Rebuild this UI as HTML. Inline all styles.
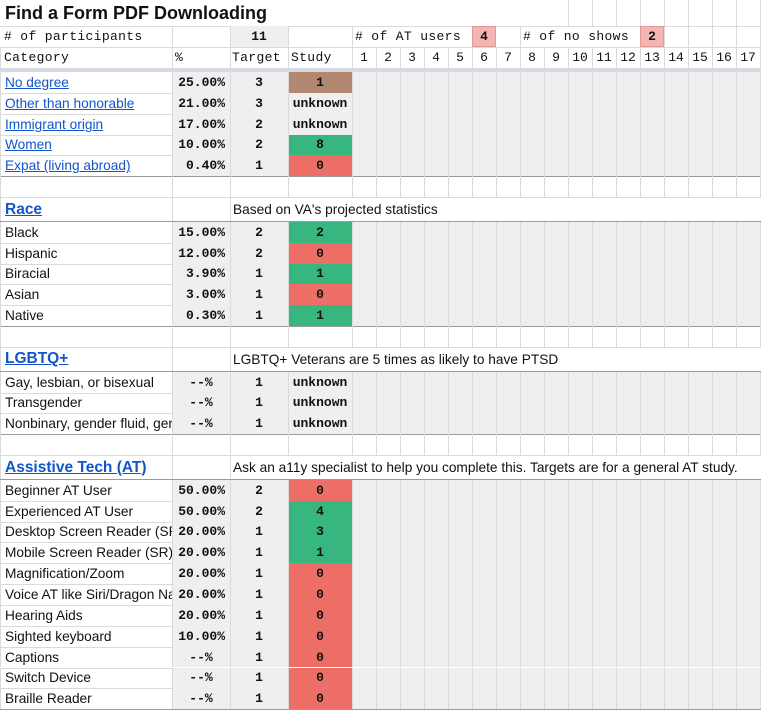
<!DOCTYPE html>
<html><head><meta charset="utf-8"><style>
body{margin:0;background:#fff;}
#sheet{position:relative;width:761px;height:711px;overflow:hidden;background:#fff;font-family:"Liberation Sans",sans-serif;font-size:13.7px;color:#111;}
.c{position:absolute;box-sizing:border-box;white-space:nowrap;overflow:hidden;display:flex;align-items:center;}
.mono{font-family:"Liberation Mono",monospace;font-size:13px;}
.lt{letter-spacing:0.35px;}
.b{font-weight:bold;}
.ctr{justify-content:center;}
.hl{position:absolute;left:0;width:761px;height:1px;background:#dadada;}
.vl{position:absolute;width:1px;background:#dadada;}
a{color:#1155cc;}
</style></head><body>
<div id="sheet"></div>
<script>
const colX=[0,172,230,288,352];
for(let i=1;i<=17;i++)colX.push(352+i*24);
const sections=[
 {title:null,note:null,labels:["No degree","Other than honorable","Immigrant origin","Women","Expat (living abroad)"],pct:["25.00%","21.00%","17.00%","10.00%","0.40%"],target:[3,3,2,2,1],study:["1","unknown","unknown","8","0"],link:true},
 {title:"Race",note:"Based on VA's projected statistics",labels:["Black","Hispanic","Biracial","Asian","Native"],pct:["15.00%","12.00%","3.90%","3.00%","0.30%"],target:[2,2,1,1,1],study:["2","0","1","0","1"]},
 {title:"LGBTQ+",note:"LGBTQ+ Veterans are 5 times as likely to have PTSD",labels:["Gay, lesbian, or bisexual","Transgender","Nonbinary, gender fluid, gender"],pct:["--%","--%","--%"],target:[1,1,1],study:["unknown","unknown","unknown"]},
 {title:"Assistive Tech (AT)",note:"Ask an a11y specialist to help you complete this. Targets are for a general AT study.",labels:["Beginner AT User","Experienced AT User","Desktop Screen Reader (SR)","Mobile Screen Reader (SR)","Magnification/Zoom","Voice AT like Siri/Dragon NaturallySpeaking","Hearing Aids","Sighted keyboard","Captions","Switch Device","Braille Reader"],pct:["50.00%","50.00%","20.00%","20.00%","20.00%","20.00%","20.00%","10.00%","--%","--%","--%"],target:[2,2,1,1,1,1,1,1,1,1,1],study:["0","4","3","1","0","0","0","0","0","0","0"]}
];
const participants=11, atUsers=4, noShows=2;
const S=document.getElementById('sheet');
function cell(x,y,w,h,txt,cls,bg,name,inter){
 const d=document.createElement('div');
 d.className='c '+(cls||'');
 d.style.left=x+'px';d.style.top=y+'px';d.style.width=w+'px';d.style.height=h+'px';
 if(bg)d.style.background=bg;
 if(txt!==null&&txt!==undefined)d.innerHTML=txt;
 
 
 S.appendChild(d);return d;
}
function hline(y,color,h){const d=document.createElement('div');d.className='hl';d.style.top=y+'px';if(color)d.style.background=color;if(h)d.style.height=h+'px';
 
 
 S.appendChild(d);}
function vline(x,y0,y1){const d=document.createElement('div');d.className='vl';d.style.left=x+'px';d.style.top=y0+'px';d.style.height=(y1-y0)+'px';
 
 
 S.appendChild(d);}
function studyBg(v){if(v==='unknown')return '#efefef';const n=+v;if(n===0)return '#ec6e66';return null;}
const GRAY='#efefef';
cell(5,0,500,26,'Find a Form PDF Downloading','b',null,'sheet-title',false).style.fontSize='18px';
for(let i=13;i<colX.length;i++)vline(colX[i],0,26);
hline(26);
let y=26;
cell(4,y,168,21,'# of participants','mono lt',null,'participants-label',false);
cell(230,y,58,21,String(participants),'mono b ctr',GRAY,'participants-count',true);
cell(355,y,117,21,'# of AT users','mono lt',null,'at-users-label',false);
cell(472,y,24,21,String(atUsers),'mono b ctr','#f4b6b3','at-users-count',true).style.border='1px solid #e39a96';
cell(523,y,117,21,'# of no shows','mono lt',null,'no-shows-label',false);
cell(640,y,24,21,String(noShows),'mono b ctr','#f4b6b3','no-shows-count',true).style.border='1px solid #e39a96';
[172,230,288,352,520].forEach(x=>vline(x,26,47));
for(let i=17;i<colX.length;i++)vline(colX[i],26,47);
hline(47);
y=47;
cell(4,y,168,21,'Category','mono lt',null,'category-header',false);
cell(175,y,55,21,'%','mono',null,'percent-header',false);
cell(232,y,56,21,'Target','mono lt',null,'target-header',false);
cell(291,y,61,21,'Study','mono lt',null,'study-header',false);
for(let i=1;i<=17;i++)cell(colX[3+i],y,24,21,String(i),'mono ctr',null,'session-'+i+'-header',false);
colX.forEach(x=>vline(x,47,68));
cell(0,68,761,4,'',null,'#d3dae3','frozen-divider',false);
y=72;
const DH=20.85;
sections.forEach((sec,si)=>{
 if(sec.title){
  colX.forEach(x=>vline(x,y,y+21));
  hline(y+21);
  y+=21;
  const hh=24.6;
  cell(5,y,167,hh,'<a href="#" style="color:#1155cc">'+sec.title+'</a>','b',null,'section-title',true).style.fontSize='15.5px';
  cell(233,y,528,hh,sec.note,null,null,'section-note',false);
  vline(0,y,y+hh);vline(172,y,y+hh);vline(230,y,y+hh);
  y+=hh;
  hline(y-1,'#9a9a9a',1);
 }
 sec.labels.forEach((lab,i)=>{
  const h=DH;
  const txt=sec.link?'<a href="#">'+lab+'</a>':lab;
  cell(5,y,167,h,txt,null,null,'category-label',!!sec.link);
  const p=sec.pct[i];
  if(p==='--%')cell(172,y,58,h,p,'mono b ctr',GRAY,'percent-value',false);
  else cell(172,y,58,h,'<span style="margin-left:auto;margin-right:5px">'+p+'</span>','mono b',GRAY,'percent-value',false);
  cell(230,y,58,h,String(sec.target[i]),'mono b ctr',GRAY,'target-value',true);
  const v=sec.study[i];
  let bg=studyBg(v);
  if(!bg)bg=(si===0&&i===0)?'#b38870':'#37b67f';
  cell(288,y,64,h,v,'mono b ctr',bg,'study-value',false);
  cell(352,y,409,h,'',null,GRAY,'session-cells',true);
  colX.forEach(x=>vline(x,y,y+h));
  y+=h;
  hline(y,i===sec.labels.length-1?'#9a9a9a':'#dadada');
 });
});
</script>
</body></html>
